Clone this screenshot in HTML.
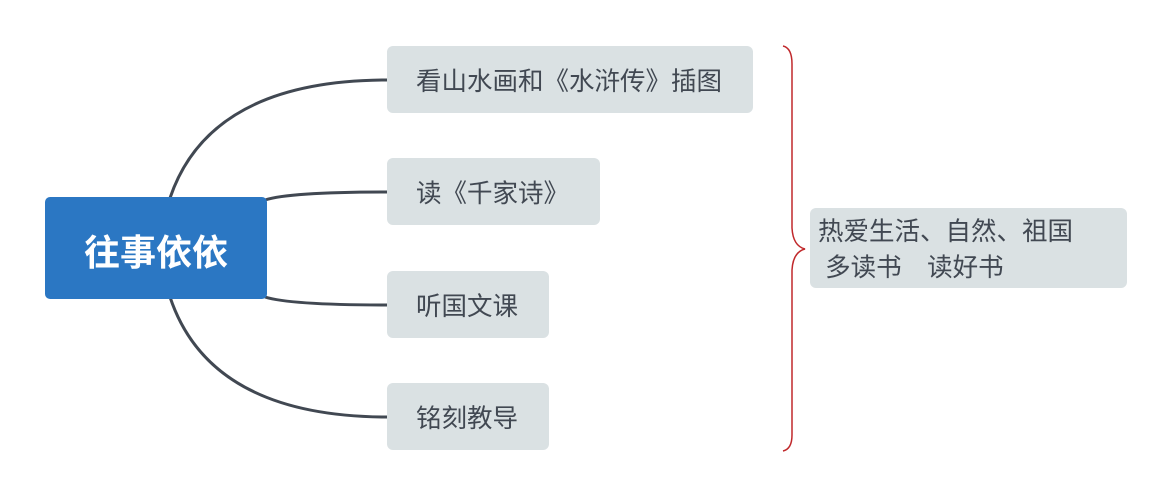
<!DOCTYPE html>
<html><head><meta charset="utf-8"><style>
html,body{margin:0;padding:0;background:#fff;width:1171px;height:495px;overflow:hidden}
.t{font-family:"Liberation Sans","Noto Sans CJK SC",sans-serif}
</style></head><body>
<svg width="1171" height="495" xmlns="http://www.w3.org/2000/svg" class="t">
<g fill="none" stroke="#414852" stroke-width="3">
<path d="M170 198 Q210 80 388 80"/>
<path d="M265 200 Q290 192 388 192"/>
<path d="M265 297 Q290 305 388 305"/>
<path d="M170 297 Q210 417 388 417"/>
</g>
<rect x="45" y="197" width="222" height="102" rx="5" fill="#2b77c3"/>
<text x="156" y="265" text-anchor="middle" font-size="36" font-weight="bold" fill="#fff">往事依依</text>
<g fill="#dae1e3">
<rect x="387" y="46" width="366" height="67" rx="6"/>
<rect x="387" y="158" width="213" height="67" rx="6"/>
<rect x="387" y="271" width="162" height="67" rx="6"/>
<rect x="387" y="383" width="162" height="67" rx="6"/>
<rect x="810" y="208" width="317" height="80" rx="6"/>
</g>
<g font-size="25.5" fill="#414852">
<text x="416" y="90">看山水画和《水浒传》插图</text>
<text x="416" y="202">读《千家诗》</text>
<text x="416" y="315">听国文课</text>
<text x="416" y="427">铭刻教导</text>
<text x="818" y="240">热爱生活、自然、祖国</text>
<text x="818" y="276" xml:space="preserve"> 多读书　读好书</text>
</g>
<path d="M783 46 Q792 48 792 64 L792 228 Q793 246 805 249 Q793 252 792 270 L792 435 Q792 449 783 451" fill="none" stroke="#c0282b" stroke-width="1.5"/>
</svg>
</body></html>
